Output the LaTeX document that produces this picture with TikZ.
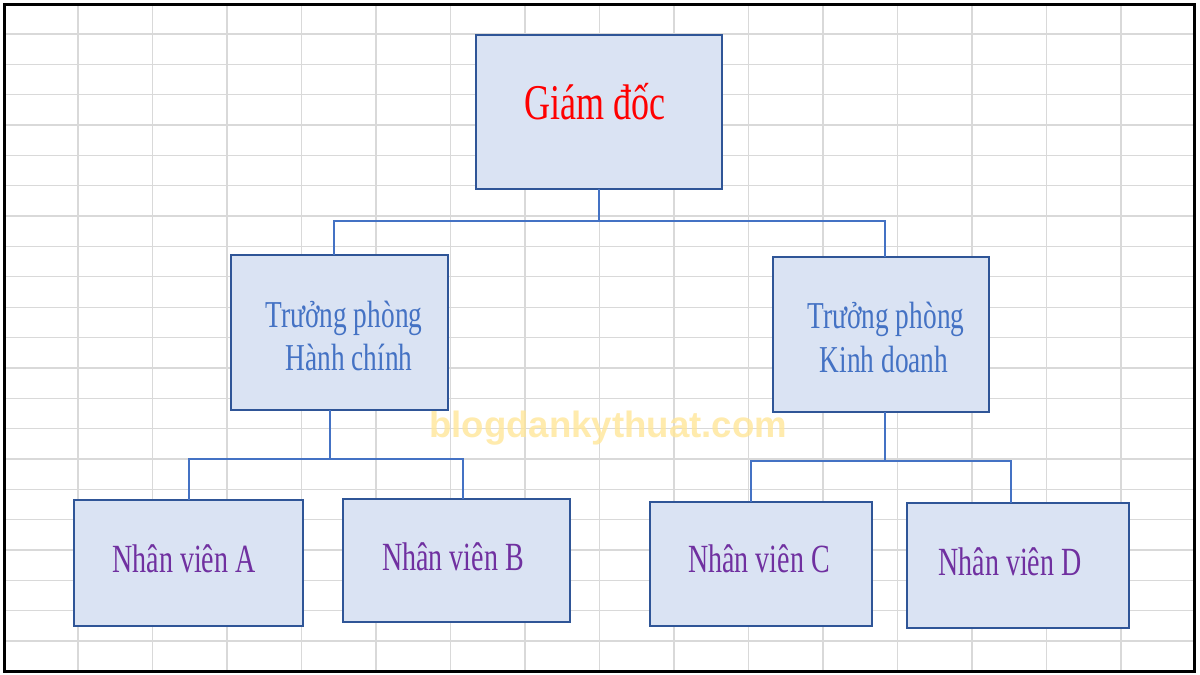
\documentclass[tikz,border=0pt]{standalone}
\usepackage{fontspec}
\usetikzlibrary{calc}
\newfontfamily\vnserif[FakeStretch=0.7]{Liberation Serif}
\newfontfamily\vnserifh[FakeStretch=0.72]{Liberation Serif}
\newfontfamily\vnserifb[FakeStretch=0.72]{Liberation Serif}
\newfontfamily\wmfont{Liberation Sans}
\definecolor{gridgray}{HTML}{D9D9D9}
\definecolor{boxfill}{HTML}{DAE3F3}
\definecolor{boxedge}{HTML}{2F5597}
\definecolor{connblue}{HTML}{4472C4}
\definecolor{headblue}{HTML}{4472C4}
\definecolor{staffpurple}{HTML}{7030A0}
\definecolor{wmyellow}{HTML}{FFE699}
\tikzset{
  gridline/.style={draw=gridgray, line width=1.3pt},
  orgbox/.style={draw=boxedge, fill=boxfill, line width=2.6pt, inner sep=0pt, outer sep=0pt, rectangle},
  conn/.style={draw=connblue, line width=2pt},
  chieftext/.style={anchor=base, inner sep=0pt, text=red, font=\vnserifb\fontsize{50}{60}\selectfont},
  headtext/.style={anchor=base, inner sep=0pt, text=headblue, font=\vnserifh\fontsize{38}{46}\selectfont},
  stafftext/.style={anchor=base, inner sep=0pt, text=staffpurple, font=\vnserif\fontsize{40}{48}\selectfont},
  watermark/.style={anchor=base west, inner sep=0pt, text=wmyellow, opacity=0.8, font=\wmfont\bfseries\fontsize{36.6}{42}\selectfont}
}
\begin{document}
\begin{tikzpicture}[x=1pt, y=-1pt]
\useasboundingbox (0,0) rectangle (1200,675);
\fill[white] (0,0) rectangle (1200,675);
% grid
\foreach \i in {0,...,14} {
  \draw[gridline] ({78+74.5*\i},4) -- ({78+74.5*\i},671);
}
\foreach \j in {0,...,20} {
  \draw[gridline] (4,{34+30.35*\j}) -- (1194,{34+30.35*\j});
}
% outer frame
\draw[black, line width=3pt] (4,4) rectangle (1194,671);
% watermark
\node[watermark] (wm) at (429,437) {blogdankythuat.com};
% boxes
\node[orgbox, minimum width=246pt, minimum height=154pt] (gd) at (599,112) {};
\node[orgbox, minimum width=217pt, minimum height=155pt] (hc) at (339.5,332.5) {};
\node[orgbox, minimum width=216pt, minimum height=155pt] (kd) at (881,334.5) {};
\node[orgbox, minimum width=229pt, minimum height=126pt] (nA) at (188.5,563) {};
\node[orgbox, minimum width=227pt, minimum height=123pt] (nB) at (456.5,560.5) {};
\node[orgbox, minimum width=222pt, minimum height=124pt] (nC) at (761,564) {};
\node[orgbox, minimum width=222pt, minimum height=125pt] (nD) at (1018,565.5) {};
% texts
\node[chieftext] (gdt) at (595,119) {Giám đốc};
\node[headtext] (hct1) at (344,327) {Trưởng phòng};
\node[headtext] (hct2) at (349,370) {Hành chính};
\node[headtext] (kdt1) at (886,328) {Trưởng phòng};
\node[headtext] (kdt2) at (884,372) {Kinh doanh};
\node[stafftext] (nAt) at (184,572) {Nhân viên A};
\node[stafftext] (nBt) at (453,570) {Nhân viên B};
\node[stafftext] (nCt) at (759,572) {Nhân viên C};
\node[stafftext] (nDt) at (1010,575) {Nhân viên D};
% connectors
\draw[conn] (gd.south) -- ++(0,32) coordinate (bus1);
\draw[conn] ($(hc.north west)+(103,0)$) |- (bus1) -| ($(kd.north west)+(112,0)$);
\draw[conn] ($(hc.south west)+(99,0)$) -- ++(0,49) coordinate (bus2);
\draw[conn] (nA.north) |- (bus2) -| ($(nB.north west)+(120,0)$);
\draw[conn] ($(kd.south west)+(112,0)$) -- ++(0,49) coordinate (bus3);
\draw[conn] ($(nC.north west)+(101,0)$) |- (bus3) -| ($(nD.north west)+(104,0)$);
\end{tikzpicture}
\end{document}
